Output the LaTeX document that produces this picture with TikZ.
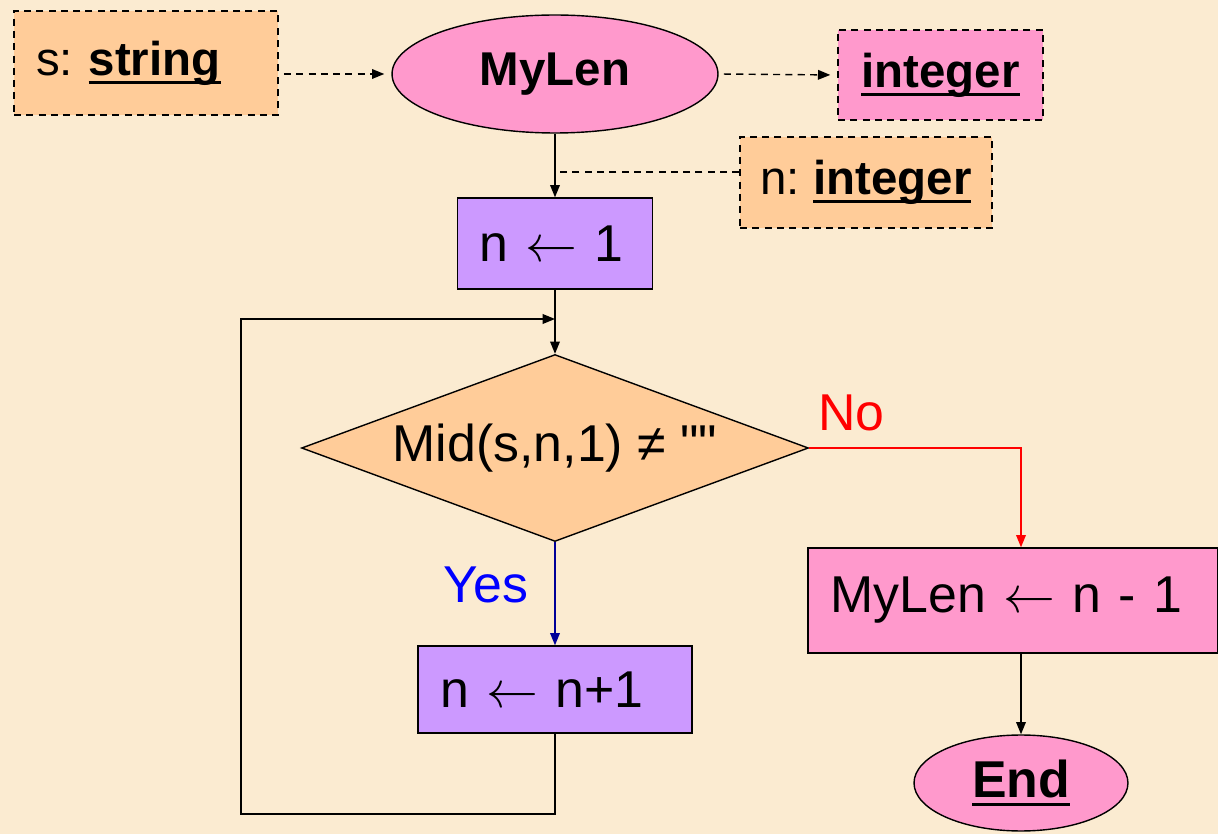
\RequirePackage{fix-cm}
\documentclass[tikz,border=0pt]{standalone}
\usepackage{fontspec}
\setmainfont{Liberation Sans}
\newfontfamily\plainfont{Liberation Sans}
\usepackage{tikz}
\usetikzlibrary{arrows.meta,shapes,calc}
\definecolor{paper}{HTML}{FBEBD1}
\definecolor{peach}{HTML}{FFCC99}
\definecolor{rose}{HTML}{FF99CC}
\definecolor{lilac}{HTML}{CC99FF}
\definecolor{yesblue}{HTML}{0000FF}
\definecolor{yesline}{HTML}{000099}
\newcommand{\uldbf}[1]{\setbox0\hbox{\textbf{#1}}\rlap{\rule[-5pt]{\wd0}{1.8pt}}\box0}
\tikzstyle{edge}=[->, >={Triangle[length=7pt,width=5.5pt]}, line width=0.8pt]
\tikzstyle{dashedge}=[edge, dash pattern=on 4pt off 3pt, shorten <=3pt, shorten >=4pt]

\begin{document}
\begin{tikzpicture}[x=0.02cm,y=-0.02cm,font=\fontsize{29.5}{34}\selectfont\frenchspacing,
          header/.style={font=\fontsize{27}{32}\selectfont\frenchspacing},
          param/.style={rectangle,draw=black,dash pattern=on 4pt off 3pt,line width=0.8pt,header},
          proc/.style={rectangle,draw=black,line width=0.8pt,align=left,inner xsep=0.44cm},
          term/.style={ellipse,draw=black,fill=rose,line width=0.8pt,inner sep=0pt},
          decision/.style={diamond,draw=black,fill=peach,line width=0.8pt,aspect=2.7,inner sep=0pt}]
        \useasboundingbox (0,0) rectangle (1218,834);
        \fill[paper] (0,0) rectangle (1218,834);
        % parameters and header
        \node [param,fill=peach,minimum height=2.08cm,text width=4.4cm,inner xsep=0.44cm,align=left] (sarg) at (146,63) {s: \uldbf{string}};
        \node [term,header,minimum width=6.52cm,minimum height=2.36cm] (mylen) at (555,74) {\textbf{MyLen}};
        \node [param,fill=rose,minimum width=4.1cm,minimum height=1.8cm] (ret) at (940.5,75) {\uldbf{integer}};
        \node [param,fill=peach,minimum width=5.04cm,minimum height=1.82cm] (nvar) at (866,182.5) {n: \uldbf{integer}};
        % body
        \node [proc,fill=lilac,text width=3.02cm,minimum height=1.82cm] (init) at (555,243.5) {n $\leftarrow$ 1};
        \node [decision,minimum width=10.14cm,minimum height=3.74cm] (test) at (555,448) {Mid(s,n,1) ≠ {\plainfont ""}};
        \node [proc,fill=lilac,text width=4.6cm,minimum height=1.74cm] (incr) at (555,689.5) {n $\leftarrow$ n+1};
        \node [proc,fill=rose,text width=7.3cm,inner xsep=0.45cm,minimum height=2.1cm] (res) at (1013,600.5) {MyLen $\leftarrow$ n - 1};
        \node [term,minimum width=4.28cm,minimum height=1.92cm] (fin) at (1021,783) {\uldbf{End}};
        \coordinate (tap) at (555,172);
        \coordinate (back) at (555,319);
        \coordinate (low) at (241,814);
        \path[dashedge]
        (sarg.east |- mylen.west) edge (mylen.west)
        (mylen.east) edge (ret.west);
        \draw[line width=0.8pt,dash pattern=on 4pt off 3pt] (nvar.west |- tap) -- (tap);
        \draw[edge] (mylen) -- (init);
        \draw[edge] (init) -- (test);
        \draw[edge,yesline] (test) -- node[pos=0.41,left=15pt,inner sep=0pt,text=yesblue] {Yes} (incr);
        \draw[edge] (incr.south) |- (low) |- (back);
        \draw[edge,red] (test.east) -| node[pos=0.1,above=9pt,inner sep=0pt] {No} (res.north -| fin.north);
        \draw[edge] (res.south -| fin.north) -- (fin.north);
      \end{tikzpicture}
\end{document}
